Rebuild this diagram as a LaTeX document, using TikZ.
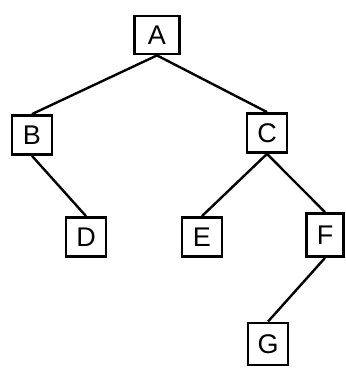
\documentclass[tikz,border=0pt]{standalone}
\usepackage{fontspec}
\setmainfont{Liberation Sans}
\begin{document}
\begin{tikzpicture}[x=1pt,y=-1pt,
  tnode/.style={draw,line width=2.8pt,minimum width=40pt,minimum height=39pt,inner sep=0pt,font=\fontsize{27}{27}\selectfont},
  edge/.style={line width=2.4pt}]
\useasboundingbox (0,0) rectangle (345,369);
\node[tnode,minimum width=45pt,minimum height=38pt] (A) at (157,35) {A};
\node[tnode] (B) at (32,135) {B};
\node[tnode] (C) at (267,133) {C};
\node[tnode] (D) at (86,237) {D};
\node[tnode] (E) at (202,237) {E};
\node[tnode,minimum width=37pt,minimum height=43pt] (F) at (325,235) {F};
\node[tnode,minimum height=42pt] (G) at (268,344) {G};
\draw[edge] (A.south) -- (B.north);
\draw[edge] (A.south) -- (C.north);
\draw[edge] (B.south) -- (D.north);
\draw[edge] (C.south) -- (E.north);
\draw[edge] (C.south) -- (F.north);
\draw[edge] (F.south) -- (G.north);
\end{tikzpicture}
\end{document}
